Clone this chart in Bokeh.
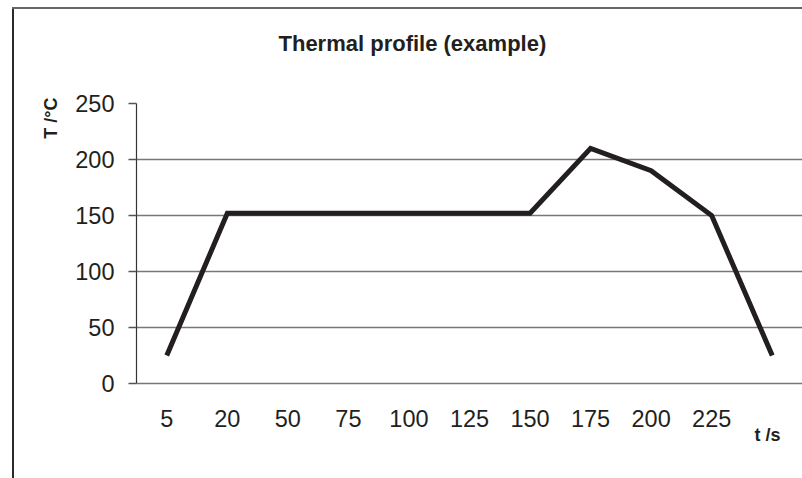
from bokeh.plotting import figure
from bokeh.models import Range1d, FixedTicker, Title
from bokeh.embed import file_html
from bokeh.resources import INLINE

# data
times = ["5", "20", "50", "75", "100", "125", "150", "175", "200", "225", ""]
temps = [25, 152, 152, 152, 152, 152, 152, 210, 190, 150, 25]
y_ticks = [0, 50, 100, 150, 200, 250]

FONT = "Liberation Sans"
INK = "#231f20"

# category slots (category i centred at i + 0.5)
xs = [i + 0.5 for i in range(len(times))]

p = figure(width=802, height=478, output_backend="svg", toolbar_location=None,
           x_range=Range1d(0, len(times)), y_range=Range1d(0, 250),
           min_border_left=136, min_border_right=0, min_border_top=103, min_border_bottom=95)
p.outline_line_color = None
p.background_fill_color = "white"
p.border_fill_color = None
p.styles = {
    "background": "linear-gradient(#666666,#666666) 12px 7px / 790px 2px no-repeat, "
                  "linear-gradient(#2a2a2a,#2a2a2a) 12px 7px / 2px 471px no-repeat, #ffffff"
}

p.xgrid.grid_line_color = None
p.ygrid.ticker = FixedTicker(ticks=y_ticks)
p.ygrid.grid_line_color = "#777777"
p.ygrid.grid_line_width = 1.5

p.yaxis.ticker = FixedTicker(ticks=y_ticks)
p.yaxis.axis_line_color = "#333333"
p.yaxis.axis_line_width = 1.2
p.yaxis.major_tick_line_color = "#555555"
p.yaxis.major_tick_line_width = 1.5
p.yaxis.major_tick_out = 8
p.yaxis.major_tick_in = 0
p.yaxis.minor_tick_line_color = None
p.yaxis.major_label_standoff = 14
p.yaxis.major_label_text_font = FONT
p.yaxis.major_label_text_font_size = "23.5px"
p.yaxis.major_label_text_color = INK

p.xaxis.ticker = FixedTicker(ticks=[x for x, t in zip(xs, times) if t])
p.xaxis.major_label_overrides = {x: t for x, t in zip(xs, times) if t}
p.xaxis.axis_line_color = "#777777"
p.xaxis.axis_line_width = 1.5
p.xaxis.major_tick_line_color = None
p.xaxis.minor_tick_line_color = None
p.xaxis.major_tick_out = 0
p.xaxis.major_label_standoff = 26
p.xaxis.major_label_text_font = FONT
p.xaxis.major_label_text_font_size = "23.5px"
p.xaxis.major_label_text_color = INK

p.line(x=xs, y=temps, line_width=5, line_color=INK, line_join="miter")

# titles / axis captions as side-panel titles
spacer = Title(text=".", text_font_size="10px", text_color="white", standoff=38)
p.add_layout(spacer, "above")
main = Title(text="Thermal profile (example)", align="left", offset=142, standoff=0,
             vertical_align="bottom", text_font=FONT, text_font_size="22px",
             text_font_style="bold", text_color=INK)
p.add_layout(main, "above")

ylab = Title(text="T /°C", align="right", offset=-6, standoff=24, vertical_align="bottom",
             text_font=FONT, text_font_size="18px", text_font_style="bold", text_color=INK)
p.add_layout(ylab, "left")

xlab = Title(text="t /s", align="right", offset=22, standoff=-10, vertical_align="top",
             text_font=FONT, text_font_size="18px", text_font_style="bold", text_color=INK)
p.add_layout(xlab, "below")

open("out.html", "w").write(file_html(p, INLINE))
